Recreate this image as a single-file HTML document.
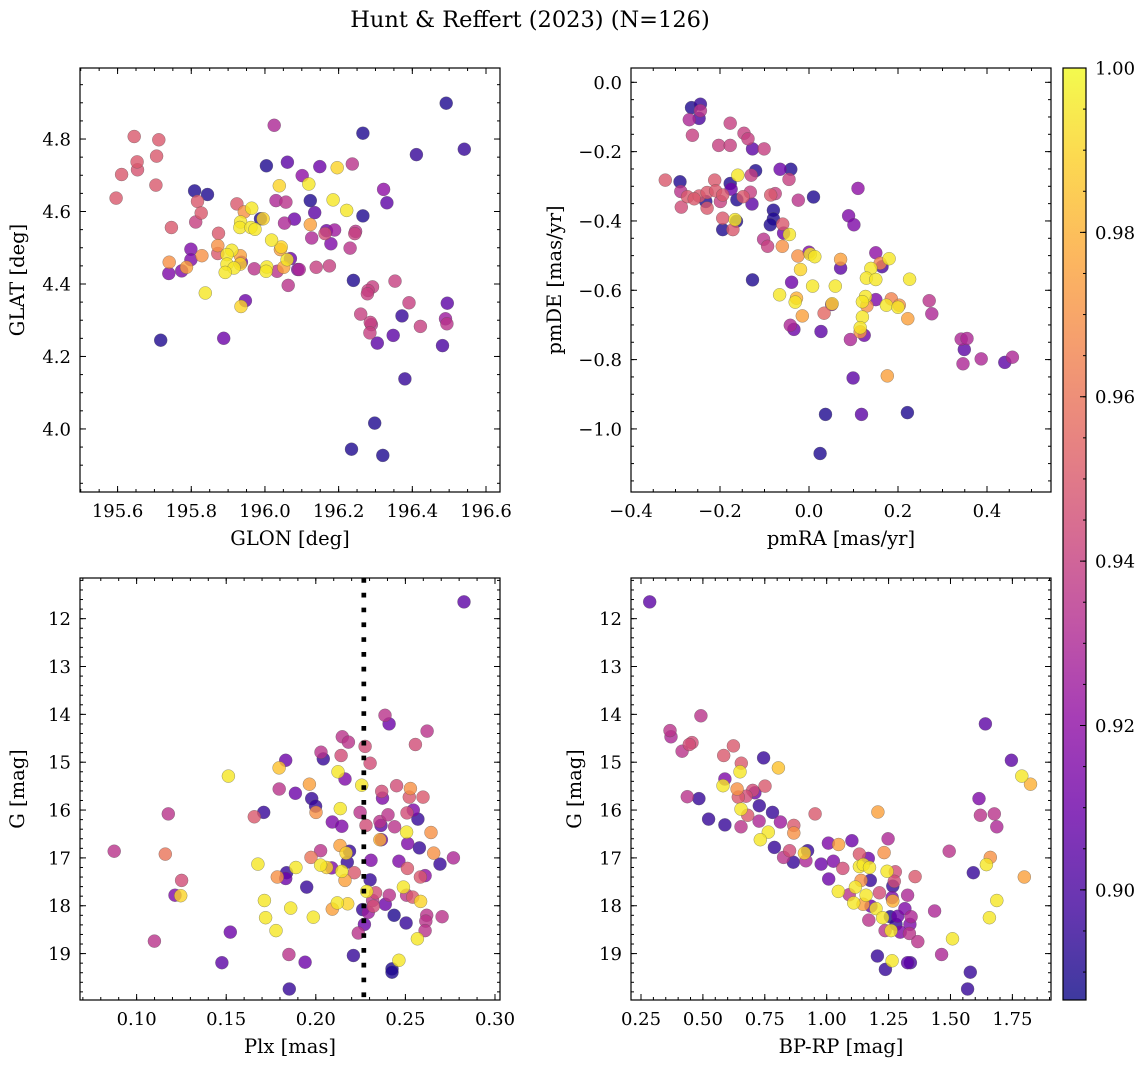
<!DOCTYPE html>
<html><head><meta charset="utf-8"><title>Hunt &amp; Reffert (2023)</title>
<style>
html,body{margin:0;padding:0;background:#fff;}
svg{display:block;}
text{font-family:"DejaVu Serif","Liberation Serif",serif;fill:#000;}
</style></head>
<body>
<svg id="fig" width="1148" height="1068" viewBox="0 0 1148 1068" xmlns="http://www.w3.org/2000/svg">
<defs>
<linearGradient id="plasma" x1="0" y1="1" x2="0" y2="0">
<stop offset="0" stop-color="#0d0887"/><stop offset="0.1" stop-color="#41049d"/><stop offset="0.2" stop-color="#6a00a8"/><stop offset="0.3" stop-color="#8f0da4"/><stop offset="0.4" stop-color="#b12a90"/><stop offset="0.5" stop-color="#cc4778"/><stop offset="0.6" stop-color="#e16462"/><stop offset="0.7" stop-color="#f2844b"/><stop offset="0.8" stop-color="#fca636"/><stop offset="0.9" stop-color="#fcce25"/><stop offset="1" stop-color="#f0f921"/>
</linearGradient>
</defs>
<text x="530" y="27" font-size="22.5" text-anchor="middle">Hunt &amp; Reffert (2023) (N=126)</text>
</svg>
<script>
// ---- Panel 1: GLON / GLAT ----
const p1Glon=[196.492,196.025,195.645,195.712,196.266,196.541,196.411,195.653,195.706,195.611,195.654,195.704,195.596,196.004,196.061,196.149,196.196,196.237,196.101,196.039,196.119,195.809,195.844,195.817,195.924,195.964,195.944,196.030,196.057,196.123,196.185,196.322,196.331,196.222,196.135,196.266,195.827,195.812,195.988,195.995,195.934,195.932,195.962,195.973,196.080,196.053,196.123,195.746,195.874,196.167,196.189,196.163,196.246,196.244,196.127,196.179,196.231,196.018,196.044,196.042,195.872,195.872,195.910,195.897,195.933,195.799,195.829,195.799,195.740,195.787,195.739,195.774,195.897,195.936,195.933,195.916,195.892,195.971,196.005,196.003,196.033,196.060,196.069,196.051,196.089,196.093,196.139,196.175,196.063,196.240,196.353,196.292,196.280,196.278,195.838,195.947,195.935,196.391,196.495,196.260,196.372,196.286,196.289,196.285,196.490,196.494,196.422,195.717,195.888,196.348,196.305,196.482,196.380,196.298,196.235,196.320];
const p1Glat=[4.899,4.838,4.807,4.798,4.816,4.772,4.757,4.737,4.753,4.702,4.715,4.673,4.637,4.726,4.736,4.724,4.721,4.731,4.699,4.671,4.676,4.657,4.647,4.628,4.621,4.609,4.599,4.630,4.626,4.630,4.632,4.661,4.624,4.603,4.597,4.588,4.596,4.571,4.580,4.580,4.571,4.556,4.556,4.551,4.579,4.568,4.564,4.556,4.540,4.547,4.549,4.539,4.545,4.539,4.527,4.511,4.499,4.521,4.502,4.495,4.506,4.484,4.493,4.481,4.478,4.496,4.478,4.467,4.460,4.446,4.429,4.436,4.455,4.460,4.455,4.444,4.432,4.442,4.447,4.435,4.435,4.467,4.470,4.446,4.440,4.440,4.446,4.450,4.396,4.410,4.408,4.392,4.382,4.373,4.375,4.354,4.338,4.348,4.347,4.317,4.312,4.294,4.288,4.265,4.304,4.290,4.283,4.245,4.250,4.258,4.237,4.230,4.138,4.016,3.944,3.927];
const p1Prob=[0.89,0.93,0.95,0.95,0.89,0.895,0.895,0.95,0.95,0.95,0.948,0.95,0.95,0.89,0.905,0.91,0.99,0.935,0.92,0.99,0.995,0.89,0.89,0.95,0.95,0.995,0.97,0.93,0.935,0.89,0.995,0.92,0.905,0.995,0.905,0.89,0.95,0.94,0.89,0.99,0.995,0.995,0.995,0.995,0.91,0.93,0.975,0.95,0.95,0.91,0.925,0.945,0.935,0.94,0.93,0.915,0.935,0.995,0.99,0.975,0.97,0.95,0.995,0.995,0.975,0.915,0.97,0.915,0.97,0.975,0.915,0.915,0.995,0.91,0.99,0.995,0.995,0.935,0.995,0.995,0.935,0.995,0.91,0.975,0.915,0.93,0.94,0.94,0.935,0.89,0.94,0.94,0.94,0.94,0.995,0.91,0.99,0.94,0.905,0.94,0.895,0.94,0.935,0.94,0.925,0.935,0.94,0.89,0.91,0.905,0.905,0.9,0.895,0.89,0.89,0.89];

// ---- Panel 2: pmRA / pmDE ----
const p2Pmra=[-0.264,-0.244,-0.244,-0.247,-0.269,-0.262,-0.177,-0.146,-0.137,-0.203,-0.177,-0.127,-0.101,-0.323,-0.290,-0.288,-0.287,-0.212,-0.177,-0.175,-0.160,-0.120,-0.130,-0.273,-0.247,-0.258,-0.229,-0.210,-0.232,-0.229,-0.199,-0.194,-0.162,-0.148,-0.132,-0.128,-0.194,-0.194,-0.171,-0.163,-0.166,-0.065,-0.041,-0.045,-0.086,-0.076,-0.024,0.010,0.110,-0.080,-0.080,-0.087,-0.059,-0.057,-0.044,-0.102,-0.093,-0.060,0.089,0.101,-0.025,0.000,0.003,0.013,0.071,0.150,0.160,0.164,0.180,0.071,-0.019,0.139,0.129,0.150,0.226,-0.127,-0.039,0.008,0.059,-0.066,-0.028,-0.031,0.127,0.120,0.150,0.185,0.203,0.174,0.200,0.130,0.270,0.276,0.222,0.051,0.052,0.034,-0.015,0.120,-0.042,-0.034,0.027,0.115,0.124,0.093,0.115,0.342,0.355,0.349,0.346,0.387,0.440,0.457,0.099,0.176,0.037,0.118,0.221,0.025];
const p2Pmde=[-0.073,-0.063,-0.082,-0.104,-0.108,-0.153,-0.118,-0.147,-0.163,-0.182,-0.182,-0.192,-0.192,-0.282,-0.287,-0.315,-0.360,-0.282,-0.292,-0.308,-0.268,-0.255,-0.268,-0.330,-0.328,-0.336,-0.318,-0.313,-0.344,-0.363,-0.344,-0.325,-0.339,-0.330,-0.317,-0.351,-0.392,-0.425,-0.425,-0.401,-0.396,-0.251,-0.251,-0.280,-0.325,-0.321,-0.340,-0.331,-0.306,-0.369,-0.394,-0.411,-0.409,-0.435,-0.439,-0.453,-0.473,-0.473,-0.385,-0.411,-0.501,-0.490,-0.496,-0.503,-0.511,-0.492,-0.522,-0.532,-0.509,-0.536,-0.540,-0.537,-0.565,-0.569,-0.568,-0.570,-0.577,-0.588,-0.588,-0.613,-0.623,-0.634,-0.618,-0.633,-0.627,-0.625,-0.643,-0.643,-0.649,-0.645,-0.630,-0.668,-0.682,-0.641,-0.639,-0.666,-0.674,-0.677,-0.701,-0.713,-0.719,-0.708,-0.730,-0.742,-0.720,-0.741,-0.739,-0.771,-0.812,-0.798,-0.808,-0.793,-0.853,-0.847,-0.958,-0.958,-0.953,-1.071];
const p2Prob=[0.89,0.895,0.935,0.9,0.93,0.94,0.94,0.94,0.94,0.94,0.94,0.905,0.94,0.95,0.89,0.935,0.945,0.95,0.89,0.91,0.995,0.89,0.94,0.95,0.95,0.95,0.95,0.95,0.89,0.95,0.94,0.95,0.89,0.95,0.94,0.905,0.95,0.89,0.95,0.89,0.995,0.91,0.89,0.94,0.95,0.94,0.935,0.89,0.92,0.89,0.89,0.89,0.95,0.91,0.995,0.935,0.94,0.97,0.915,0.915,0.97,0.915,0.995,0.995,0.975,0.92,0.965,0.9,0.995,0.905,0.99,0.995,0.995,0.995,0.995,0.89,0.91,0.995,0.995,0.995,0.98,0.995,0.995,0.995,0.915,0.965,0.97,0.995,0.995,0.97,0.935,0.93,0.975,0.92,0.99,0.955,0.975,0.995,0.93,0.91,0.905,0.995,0.91,0.93,0.97,0.93,0.93,0.905,0.93,0.93,0.905,0.93,0.905,0.975,0.89,0.905,0.89,0.89];

// ---- Panel 3: Plx / G ----
const p3Plx=[0.2827,0.2386,0.2409,0.2621,0.2556,0.2148,0.2182,0.2275,0.2029,0.2042,0.2141,0.2303,0.1832,0.1795,0.1512,0.2124,0.2163,0.2256,0.1964,0.1796,0.1886,0.2368,0.2372,0.2451,0.2528,0.2522,0.2598,0.1977,0.1999,0.2001,0.2137,0.1709,0.1657,0.1177,0.2247,0.2092,0.2145,0.2280,0.2358,0.2403,0.2364,0.2440,0.2509,0.2544,0.2570,0.2507,0.2643,0.2366,0.2358,0.2513,0.2578,0.2658,0.2768,0.0875,0.1160,0.2027,0.2135,0.2188,0.2169,0.1973,0.2176,0.2308,0.2464,0.2511,0.2693,0.1677,0.1889,0.2027,0.2061,0.2089,0.2145,0.2215,0.1837,0.1832,0.1785,0.2163,0.1251,0.2303,0.2584,0.2610,0.1949,0.1214,0.1246,0.2284,0.2334,0.2410,0.2489,0.2507,0.2541,0.2585,0.2317,0.2321,0.2388,0.1713,0.1860,0.2092,0.2120,0.2178,0.2262,0.2293,0.1720,0.1986,0.2437,0.2619,0.2705,0.2614,0.2504,0.2271,0.1778,0.1523,0.2237,0.2610,0.2567,0.1099,0.1850,0.1940,0.2210,0.1476,0.2464,0.2425,0.2425,0.1852];
const p3G=[11.65,14.02,14.20,14.35,14.63,14.47,14.58,14.67,14.79,14.93,14.86,15.02,14.96,15.12,15.29,15.20,15.35,15.48,15.46,15.56,15.65,15.61,15.75,15.49,15.55,15.73,15.73,15.76,15.92,16.05,15.97,16.05,16.14,16.08,16.05,16.25,16.34,16.32,16.24,16.10,16.32,16.35,16.06,16.00,16.19,16.46,16.47,16.62,16.62,16.70,16.79,16.90,17.00,16.86,16.92,16.85,16.74,16.86,16.90,16.99,17.09,17.05,17.07,17.22,17.13,17.13,17.20,17.15,17.20,17.21,17.28,17.31,17.31,17.43,17.40,17.47,17.47,17.46,17.40,17.37,17.61,17.78,17.79,17.70,17.73,17.78,17.61,17.78,17.82,17.91,17.89,18.01,17.97,17.89,18.05,18.07,17.94,17.96,18.08,18.14,18.25,18.24,18.20,18.20,18.23,18.32,18.36,18.39,18.52,18.55,18.57,18.52,18.69,18.74,19.02,19.18,19.04,19.19,19.14,19.32,19.39,19.74];
const p3Prob=[0.905,0.935,0.91,0.935,0.945,0.935,0.935,0.945,0.935,0.895,0.945,0.945,0.91,0.985,0.995,0.995,0.915,0.995,0.975,0.935,0.91,0.945,0.915,0.945,0.97,0.95,0.95,0.895,0.895,0.97,0.995,0.895,0.95,0.935,0.935,0.915,0.915,0.945,0.935,0.935,0.905,0.935,0.945,0.915,0.895,0.995,0.97,0.91,0.98,0.915,0.895,0.97,0.93,0.935,0.96,0.935,0.975,0.895,0.99,0.96,0.895,0.915,0.915,0.95,0.895,0.995,0.995,0.995,0.99,0.915,0.995,0.95,0.895,0.91,0.97,0.975,0.945,0.895,0.95,0.92,0.895,0.915,0.99,0.995,0.945,0.935,0.995,0.935,0.95,0.99,0.935,0.945,0.91,0.995,0.995,0.975,0.995,0.99,0.895,0.925,0.995,0.995,0.89,0.935,0.935,0.935,0.895,0.91,0.995,0.91,0.935,0.935,0.995,0.935,0.935,0.91,0.895,0.905,0.995,0.89,0.89,0.895];

// ---- Panel 4: BP-RP / G ----
const p4Bprp=[0.285,0.492,0.367,0.371,0.456,0.445,0.416,0.623,0.584,0.745,0.655,0.650,0.805,0.589,0.581,0.638,0.701,0.710,0.751,0.674,0.643,0.437,0.484,0.728,0.654,0.681,0.781,0.523,0.589,0.654,0.727,0.813,0.867,0.867,0.953,1.207,0.764,0.732,0.789,0.850,0.826,0.865,0.916,0.923,0.910,1.007,1.048,1.102,1.248,1.232,1.132,1.168,1.027,0.978,1.065,1.008,1.132,1.148,1.173,1.244,1.277,1.176,1.139,1.357,1.495,1.641,1.746,1.788,1.823,1.615,1.621,1.677,1.687,1.661,1.645,1.592,1.798,1.687,1.657,1.436,1.508,1.464,1.580,1.569,1.047,1.091,1.116,1.159,1.213,1.109,1.147,1.199,1.179,1.267,1.273,1.264,1.267,1.327,1.316,1.226,1.170,1.257,1.287,1.341,1.280,1.336,1.236,1.260,1.297,1.334,1.368,1.205,1.264,1.237,1.327,1.338];
const p4G=[11.65,14.03,14.34,14.47,14.59,14.63,14.77,14.66,14.86,14.91,15.02,15.20,15.12,15.35,15.49,15.56,15.59,15.64,15.50,15.71,15.73,15.72,15.76,15.91,15.98,16.11,16.05,16.19,16.31,16.35,16.23,16.25,16.32,16.48,16.08,16.04,16.46,16.62,16.78,16.85,16.99,17.09,17.06,16.85,16.90,16.69,16.72,16.64,16.60,16.89,16.92,17.01,17.07,17.13,17.22,17.44,17.18,17.14,17.20,17.28,17.29,17.47,17.47,17.39,16.86,14.20,14.96,15.29,15.46,15.76,16.11,16.08,16.35,16.99,17.14,17.31,17.40,17.89,18.25,18.11,18.69,19.02,19.39,19.74,17.70,17.77,17.61,17.78,17.73,17.94,17.97,18.06,18.01,17.59,17.49,17.83,17.90,17.78,18.06,18.25,18.30,18.23,18.22,18.23,18.39,18.39,18.52,18.52,18.55,18.58,18.75,19.05,19.15,19.33,19.19,19.19];
const p4Prob=[0.905,0.935,0.935,0.93,0.945,0.945,0.935,0.95,0.95,0.895,0.95,0.995,0.985,0.915,0.995,0.97,0.945,0.91,0.95,0.945,0.95,0.935,0.895,0.895,0.995,0.95,0.895,0.895,0.895,0.935,0.93,0.925,0.95,0.97,0.95,0.975,0.995,0.995,0.895,0.945,0.935,0.895,0.93,0.895,0.99,0.915,0.975,0.91,0.93,0.97,0.95,0.91,0.915,0.91,0.945,0.91,0.995,0.995,0.995,0.995,0.945,0.895,0.97,0.95,0.935,0.905,0.905,0.995,0.98,0.915,0.935,0.935,0.93,0.97,0.995,0.895,0.975,0.995,0.995,0.93,0.995,0.93,0.895,0.895,0.995,0.935,0.995,0.995,0.945,0.995,0.975,0.995,0.91,0.895,0.945,0.915,0.98,0.93,0.915,0.995,0.935,0.89,0.91,0.93,0.895,0.915,0.935,0.995,0.915,0.935,0.935,0.895,0.995,0.895,0.905,0.9];

// Tick labels
const p1XTicks=[195.6,195.8,196.0,196.2,196.4,196.6];
const p1YTicks=[4.0,4.2,4.4,4.6,4.8];
const p2XTicks=[-0.4,-0.2,0.0,0.2,0.4];
const p2YTicks=[0.0,-0.2,-0.4,-0.6,-0.8,-1.0];
const p3XTicks=[0.10,0.15,0.20,0.25,0.30];
const gTicks=[12,13,14,15,16,17,18,19];
const p4XTicks=[0.25,0.50,0.75,1.00,1.25,1.50,1.75];
const cbTicks=[0.90,0.92,0.94,0.96,0.98,1.00];
const plxCut=[0.2268];

const NS='http://www.w3.org/2000/svg';
const svg=document.getElementById('fig');
const PMIN=0.8866, PMAX=1.0;
const STOPS=['#0d0887','#41049d','#6a00a8','#8f0da4','#b12a90','#cc4778','#e16462','#f2844b','#fca636','#fcce25','#f0f921'];
function hex(h){return [parseInt(h.slice(1,3),16),parseInt(h.slice(3,5),16),parseInt(h.slice(5,7),16)];}
function plasma(p){
  let t=(p-PMIN)/(PMAX-PMIN); t=Math.max(0,Math.min(1,t));
  const f=t*10, i=Math.min(9,Math.floor(f)), r=f-i;
  const a=hex(STOPS[i]), b=hex(STOPS[i+1]);
  return 'rgb('+a.map((v,k)=>Math.round(v+(b[k]-v)*r)).join(',')+')';
}
function mk(tag,attrs,parent){
  const e=document.createElementNS(NS,tag);
  for(const k in attrs)e.setAttribute(k,attrs[k]);
  (parent||svg).appendChild(e);return e;
}
function fmt(v,d){const s=v.toFixed(d);return s.startsWith('-')?'\u2212'+s.slice(1):s;}

function panel(o){
  const g=mk('g',{});
  
  
  const X=v=>o.x0+(v-o.xd[0])/(o.xd[1]-o.xd[0])*o.w;
  const Y=v=>o.y0+(v-o.yd[0])/(o.yd[1]-o.yd[0])*o.h;
  const pts=mk('g',{},g);
  
  
  const order=o.xs.map((_,i)=>i).sort((a,b)=>o.ps[a]-o.ps[b]);
  order.forEach(i=>{
    const c=mk('circle',{cx:X(o.xs[i]).toFixed(1),cy:Y(o.ys[i]).toFixed(1),r:6.5,fill:plasma(o.ps[i]),'fill-opacity':0.8,stroke:'#555','stroke-width':0.5,'stroke-opacity':0.6},pts);
    
    
  });
  if(o.vline){
    o.vline.forEach(v=>{
      const l=mk('line',{x1:X(v),x2:X(v),y1:o.y0,y2:o.y0+o.h,stroke:'#000','stroke-width':4.7,'stroke-dasharray':'4.7 10.1'},g);
      
      
    });
  }
  const fr=mk('rect',{x:o.x0,y:o.y0,width:o.w,height:o.h,fill:'none',stroke:'#000','stroke-width':1.2},g);
  
  
  const tk=mk('g',{stroke:'#000','stroke-width':1},g);
  
  
  function xt(v,len){const x=X(v);if(x<o.x0-0.5||x>o.x0+o.w+0.5)return;
    mk('line',{x1:x,x2:x,y1:o.y0+o.h,y2:o.y0+o.h-len},tk);mk('line',{x1:x,x2:x,y1:o.y0,y2:o.y0+len},tk);}
  function yt(v,len){const y=Y(v);if(y<o.y0-0.5||y>o.y0+o.h+0.5)return;
    mk('line',{x1:o.x0,x2:o.x0+len,y1:y,y2:y},tk);mk('line',{x1:o.x0+o.w,x2:o.x0+o.w-len,y1:y,y2:y},tk);}
  const xlo=Math.min(...o.xd),xhi=Math.max(...o.xd),ylo=Math.min(...o.yd),yhi=Math.max(...o.yd);
  for(let k=Math.ceil(xlo/o.xminor-1e-6);k*o.xminor<=xhi+1e-9;k++)xt(k*o.xminor,3);
  for(let k=Math.ceil(ylo/o.yminor-1e-6);k*o.yminor<=yhi+1e-9;k++)yt(k*o.yminor,3);
  o.xt.forEach(v=>{xt(v,6);
    const t=mk('text',{x:X(v),y:o.y0+o.h+25,'font-size':18,'text-anchor':'middle'},g);
    t.textContent=fmt(v,o.xdp);
    
    });
  o.yt.forEach(v=>{yt(v,6);
    const t=mk('text',{x:o.x0-9,y:Y(v)+6.5,'font-size':18,'text-anchor':'end'},g);
    t.textContent=fmt(v,o.ydp);
    
    });
  const xl=mk('text',{x:o.x0+o.w/2,y:o.y0+o.h+53,'font-size':19.5,'text-anchor':'middle'},g);
  xl.textContent=o.xlabel;
  
  
  const yx=o.ylx, yy=o.y0+o.h/2;
  const yl=mk('text',{x:yx,y:yy,'font-size':19.5,'text-anchor':'middle',transform:'rotate(-90 '+yx+' '+yy+')'},g);
  yl.textContent=o.ylabel;
  
  
}

panel({name:'glon-glat-panel',x0:80,y0:68,w:420,h:424,xd:[195.498,196.638],yd:[4.996,3.826],xs:p1Glon,ys:p1Glat,ps:p1Prob,xt:p1XTicks,yt:p1YTicks,xdp:1,ydp:1,xminor:0.05,yminor:0.05,xlabel:'GLON [deg]',ylabel:'GLAT [deg]',ylx:24});
panel({name:'pm-panel',x0:631,y0:68,w:420,h:424,xd:[-0.4,0.5438],yd:[0.0413,-1.182],xs:p2Pmra,ys:p2Pmde,ps:p2Prob,xt:p2XTicks,yt:p2YTicks,xdp:1,ydp:1,xminor:0.05,yminor:0.05,xlabel:'pmRA [mas/yr]',ylabel:'pmDE [mas/yr]',ylx:561});
panel({name:'plx-g-panel',x0:80,y0:578,w:420,h:422,xd:[0.0684,0.3028],yd:[11.15,19.97],xs:p3Plx,ys:p3G,ps:p3Prob,xt:p3XTicks,yt:gTicks,xdp:2,ydp:0,xminor:0.01,yminor:0.2,xlabel:'Plx [mas]',ylabel:'G [mag]',ylx:24,vline:plxCut});
panel({name:'cmd-panel',x0:631,y0:578,w:420,h:422,xd:[0.2096,1.906],yd:[11.15,19.97],xs:p4Bprp,ys:p4G,ps:p4Prob,xt:p4XTicks,yt:gTicks,xdp:2,ydp:0,xminor:0.05,yminor:0.2,xlabel:'BP-RP [mag]',ylabel:'G [mag]',ylx:581});

// colorbar
(function(){
  const x0=1063,w=23,y0=68,h=932;
  const g=mk('g',{});
  
  
  const Y=v=>y0+(PMAX-v)/(PMAX-PMIN)*h;
  mk('rect',{x:x0,y:y0,width:w,height:h,fill:'url(#plasma)','fill-opacity':0.8},g);
  mk('rect',{x:x0,y:y0,width:w,height:h,fill:'none',stroke:'#000','stroke-width':1.2},g);
  for(let k=Math.ceil(PMIN/0.005);k*0.005<=PMAX+1e-9;k++){
    const y=Y(k*0.005);mk('line',{x1:x0+w,x2:x0+w-3,y1:y,y2:y,stroke:'#000'},g);}
  cbTicks.forEach(v=>{const y=Y(v);
    mk('line',{x1:x0+w,x2:x0+w-6,y1:y,y2:y,stroke:'#000'},g);
    const t=mk('text',{x:x0+w+9,y:y+6.5,'font-size':18},g);
    t.textContent=v.toFixed(2);
    
    });
})();
</script>
</body></html>
